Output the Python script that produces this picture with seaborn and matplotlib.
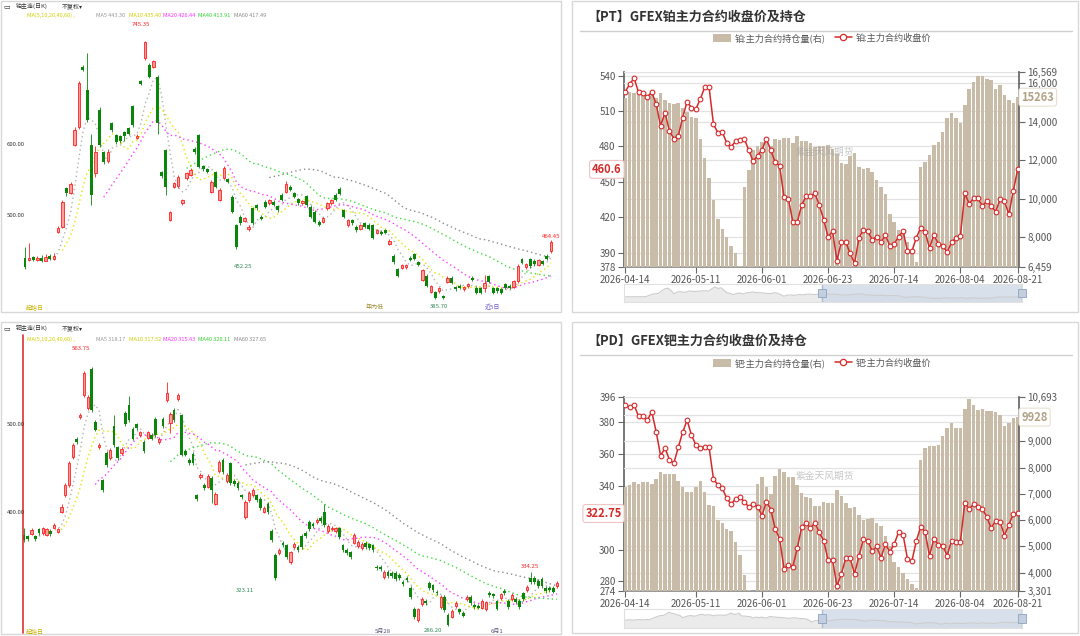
import numpy as np
import pandas as pd
import matplotlib
matplotlib.use("Agg")
import matplotlib.pyplot as plt
import matplotlib.transforms as mtransforms
from matplotlib.patches import Rectangle, Patch
from matplotlib.lines import Line2D
import seaborn as sns

# ---------------- data: right panels (90 trading days) ----------------
date_labels = ['2026-04-14', '2026-05-11', '2026-06-01', '2026-06-23',
               '2026-07-14', '2026-08-04', '2026-08-21']
date_tick_idx = [0, 16, 31, 46, 61, 76, 89]

pt_close = [526.3, 532.9, 537.7, 525.8, 524.9, 522.1, 525.8, 515.8, 497.3, 508.7,
            493.0, 486.7, 488.7, 504.4, 517.8, 512.9, 511.5, 520.1, 530.0, 530.0,
            498.7, 491.6, 492.1, 483.0, 479.6, 484.4, 485.3, 486.4, 476.8, 467.4,
            472.2, 477.3, 486.4, 476.8, 466.5, 463.6, 436.9, 435.2, 416.1, 416.1,
            430.3, 438.0, 438.0, 440.3, 430.3, 418.1, 403.2, 408.4, 383.3, 399.5,
            399.0, 389.6, 381.0, 402.7, 409.5, 408.4, 401.0, 403.8, 399.0, 404.7,
            396.1, 397.5, 403.8, 408.4, 391.3, 391.3, 402.7, 411.2, 407.5, 394.1,
            405.2, 397.5, 396.1, 390.4, 399.0, 402.7, 404.1, 440.3, 431.7, 436.0,
            436.0, 429.5, 434.0, 429.7, 424.6, 435.2, 433.7, 422.6, 442.3, 460.6]
pt_oi = [15200, 15550, 15465, 15431, 15413, 15361, 15465, 15240, 15465, 15119,
         14946, 14894, 14963, 14686, 14513, 14253, 14166, 13093, 12088, 11049,
         9923, 8970, 8451, 8018, 7533, 7186, 6494, 10616, 11482, 12521,
         12729, 12954, 13041, 12729, 13093, 13041, 13162, 13162, 12902, 13248,
         13006, 13006, 12902, 12660, 12729, 12729, 12763, 12556, 12313, 11863,
         11794, 12209, 12348, 11655, 11516, 11568, 11395, 10962, 10616, 10235,
         9230, 8797, 8364, 8330, 7758, 7412, 6719, 11655, 11915, 12261,
         12781, 12954, 13474, 14166, 14461, 14166, 13907, 14859, 15673, 16072,
         16366, 16366, 16210, 16158, 15673, 15898, 15379, 15119, 14946, 15263]

pd_close = [390.9, 389.4, 390.9, 383.8, 383.8, 381.5, 386.7, 374.1, 359.1, 363.9,
            356.6, 354.3, 364.3, 373.7, 381.5, 372.1, 365.8, 363.7, 364.7, 364.3,
            344.4, 340.7, 338.6, 332.3, 328.7, 331.9, 332.9, 330.2, 326.7, 328.7,
            327.1, 321.4, 330.2, 325.2, 313.1, 306.8, 287.9, 290.5, 289.4, 300.9,
            314.1, 316.8, 313.5, 317.0, 310.8, 305.7, 293.2, 293.8, 277.1, 284.8,
            294.6, 294.6, 284.8, 295.9, 306.8, 305.7, 299.0, 302.0, 294.9, 303.6,
            298.4, 303.6, 311.0, 309.5, 294.2, 292.8, 305.3, 314.5, 311.0, 296.3,
            306.8, 303.2, 302.6, 296.3, 305.7, 305.1, 304.7, 329.4, 325.6, 328.7,
            326.7, 325.6, 320.4, 313.5, 318.3, 317.7, 308.9, 315.6, 322.5, 322.75]
pd_oi = [7274, 7338, 7440, 7389, 7440, 7465, 7363, 7567, 7822, 7758,
         7758, 7758, 7504, 7274, 7058, 7058, 7274, 7504, 7058, 6573,
         6548, 6000, 5898, 5682, 5580, 5172, 4688, 3924, 3325, 3200,
         7363, 7656, 7274, 6981, 7695, 7949, 7822, 7656, 7656, 7338,
         7019, 6892, 6828, 6548, 6548, 6701, 6637, 6663, 7147, 6917,
         6637, 6446, 6510, 6191, 6000, 6038, 6064, 5873, 5771, 5401,
         5019, 4408, 4217, 3987, 3771, 3580, 3414, 8293, 8739, 8841,
         8841, 8867, 9223, 9529, 9720, 9529, 9529, 10243, 10612, 10370,
         10204, 10243, 10166, 10166, 10115, 10013, 9606, 9720, 9911, 9928]

pt_left_ticks = [378, 390, 420, 450, 480, 510, 540]
pt_left_max = 543
pt_right_ticks = [6459, 8000, 10000, 12000, 14000, 16000, 16569]
pd_left_ticks = [274, 280, 300, 320, 340, 360, 380, 396]
pd_left_max = 396
pd_right_ticks = [3301, 4000, 5000, 6000, 7000, 8000, 9000, 10000, 10693]
# tick labels hidden behind the last-value boxes in the reference
pt_hidden_left, pt_hidden_right = [], []
pd_hidden_left, pd_hidden_right = [320], [10000]

# ---------------- data: left candlestick panels (daily OHLC) ----------------
pt_hist_open = [441, 438, 442, 438, 441, 437, 443, 439, 478, 485,
                539, 533, 600, 625, 710, 677, 600, 560, 650, 590,
                578, 631, 614, 612, 618, 624, 655, 610, 690, 722,
                712, 710, 696, 562, 593, 494, 541, 542, 518, 553,
                558, 595, 614, 570, 566, 534, 562, 523, 554, 552,
                527, 487, 499, 493, 481, 511, 515, 499, 520, 518,
                520, 514, 530, 534, 541, 532, 524, 518, 528, 513,
                506, 492, 492, 511, 518, 530, 538, 508, 487, 494,
                485, 482, 490, 488, 487, 476, 478, 480, 461, 444,
                425, 427, 428, 441, 446, 435, 410, 416, 393, 393,
                394, 387, 407, 413, 400, 402, 397, 401, 413, 399,
                398, 398, 415, 398, 398, 397, 404, 402, 400, 408,
                439, 428, 439, 437, 431, 436, 444, 450]
pt_hist_close = [428, 441, 438, 441, 437, 442, 439, 444, 483, 520,
                 532, 545, 621, 687, 706, 635, 530, 590, 600, 576,
                 590, 621, 604, 605, 612, 616, 628, 613, 686, 745,
                 696, 718, 631, 556, 541, 506, 546, 555, 522, 560,
                 565, 590, 569, 566, 562, 548, 541, 537, 568, 548,
                 506, 456, 490, 497, 485, 490, 511, 496, 513, 522,
                 516, 508, 523, 545, 537, 527, 518, 521, 515, 499,
                 492, 488, 497, 518, 522, 523, 531, 499, 494, 490,
                 480, 487, 485, 482, 469, 480, 475, 476, 465, 435,
                 416, 431, 431, 438, 440, 431, 424, 402, 401, 385,
                 398, 385, 413, 406, 397, 399, 400, 404, 410, 392,
                 392, 406, 407, 392, 394, 392, 399, 399, 408, 430,
                 434, 432, 429, 432, 438, 433, 440, 464]
pt_hist_high = [456, 462, 444, 443, 445, 446, 446, 448, 486, 522,
                541, 548, 625, 690, 712, 730, 615, 598, 653, 592,
                595, 633, 616, 614, 620, 626, 657, 615, 692, 746,
                716, 720, 698, 564, 595, 507, 548, 558, 524, 562,
                567, 597, 616, 572, 568, 550, 564, 539, 570, 554,
                529, 489, 501, 499, 487, 513, 517, 501, 522, 524,
                522, 516, 532, 549, 543, 534, 526, 523, 530, 515,
                508, 494, 499, 520, 524, 532, 541, 510, 496, 496,
                487, 489, 492, 490, 489, 482, 480, 482, 467, 446,
                427, 433, 433, 443, 448, 437, 426, 418, 403, 395,
                400, 389, 415, 415, 402, 404, 402, 406, 415, 401,
                400, 417, 417, 400, 400, 399, 406, 404, 410, 432,
                441, 434, 441, 439, 440, 438, 446, 466]
pt_hist_low = [426, 437, 437, 436, 435, 436, 438, 438, 476, 483,
               528, 531, 598, 622, 704, 633, 515, 555, 597, 573,
               575, 618, 602, 603, 605, 614, 626, 608, 684, 720,
               694, 708, 615, 554, 529, 493, 539, 540, 516, 551,
               556, 588, 567, 564, 560, 532, 539, 521, 552, 546,
               504, 454, 488, 491, 479, 488, 509, 494, 511, 516,
               514, 506, 521, 532, 535, 525, 516, 516, 513, 497,
               490, 486, 490, 509, 516, 521, 529, 497, 485, 488,
               478, 480, 483, 480, 467, 474, 473, 474, 459, 433,
               414, 425, 426, 436, 438, 429, 408, 400, 391, 383,
               392, 383, 405, 404, 395, 397, 395, 399, 408, 390,
               390, 393, 405, 390, 392, 390, 397, 397, 398, 406,
               432, 426, 427, 430, 429, 431, 438, 448]

pd_hist_open = [376, 374, 377, 374, 382, 378, 376, 380, 384, 379,
                402, 420, 432, 463, 484, 508, 533, 518, 562, 503,
                474, 437, 468, 462, 498, 474, 468, 513, 522, 495,
                500, 488, 480, 485, 488, 506, 480, 506, 527, 502,
                516, 528, 510, 470, 460, 467, 420, 441, 432, 430,
                440, 411, 447, 460, 436, 456, 436, 434, 420, 396,
                415, 420, 420, 416, 402, 411, 380, 353, 355, 367,
                364, 345, 362, 362, 375, 378, 390, 388, 390, 395,
                401, 380, 382, 380, 383, 364, 359, 356, 367, 363,
                361, 367, 365, 364, 340, 340, 328, 334, 333, 333,
                331, 323, 327, 316, 293, 280, 298, 302, 322, 319,
                312, 295, 306, 286, 284, 296, 292, 288, 304, 306,
                297, 296, 294, 292, 311, 309, 301, 305, 313, 302,
                304, 304, 302, 310, 314, 327, 327, 324, 326, 316,
                316, 316, 318]
pd_hist_close = [370, 371, 381, 371, 378, 383, 382, 377, 387, 382,
                 407, 432, 457, 477, 480, 511, 558, 531, 516, 494,
                 477, 426, 454, 471, 477, 462, 472, 500, 505, 484,
                 496, 491, 470, 491, 484, 488, 484, 498, 535, 512,
                 505, 533, 466, 466, 456, 456, 416, 443, 428, 442,
                 426, 422, 458, 446, 443, 434, 433, 428, 418, 413,
                 423, 426, 415, 406, 406, 401, 370, 327, 359, 364,
                 351, 356, 366, 359, 362, 374, 382, 386, 393, 391,
                 387, 386, 384, 383, 373, 359, 355, 351, 376, 368,
                 366, 362, 361, 359, 338, 337, 334, 329, 329, 326,
                 327, 320, 325, 306, 283, 292, 304, 299, 316, 314,
                 310, 306, 291, 275, 290, 299, 289, 285, 306, 299,
                 295, 294, 302, 300, 308, 307, 293, 309, 310, 295,
                 308, 300, 295, 304, 317, 323, 323, 318, 318, 313,
                 314, 312, 322]
pd_hist_high = [383, 376, 384, 376, 384, 385, 384, 382, 389, 384,
                410, 434, 459, 479, 486, 513, 560, 533, 564, 505,
                479, 439, 470, 473, 510, 476, 474, 515, 532, 497,
                502, 493, 482, 493, 490, 508, 486, 508, 547, 514,
                518, 535, 512, 472, 462, 469, 422, 445, 434, 444,
                442, 424, 460, 462, 445, 458, 438, 436, 422, 415,
                425, 428, 422, 418, 408, 413, 382, 355, 361, 369,
                366, 358, 368, 364, 377, 380, 392, 390, 395, 397,
                410, 388, 386, 385, 385, 366, 361, 358, 378, 370,
                368, 369, 367, 366, 342, 342, 336, 336, 335, 335,
                333, 325, 329, 318, 295, 294, 306, 304, 324, 321,
                314, 308, 308, 288, 292, 301, 294, 290, 308, 308,
                299, 298, 304, 302, 313, 311, 303, 311, 315, 304,
                310, 306, 304, 312, 319, 334, 329, 326, 328, 318,
                318, 318, 324]
pd_hist_low = [368, 369, 376, 369, 376, 376, 375, 375, 383, 378,
               400, 418, 430, 461, 478, 506, 531, 516, 514, 492,
               472, 424, 452, 460, 475, 460, 466, 498, 503, 482,
               494, 486, 468, 483, 482, 486, 478, 496, 525, 490,
               503, 526, 464, 464, 454, 454, 414, 439, 426, 428,
               412, 409, 445, 444, 434, 432, 431, 426, 416, 394,
               413, 418, 413, 404, 400, 399, 368, 325, 353, 362,
               349, 343, 360, 357, 360, 372, 380, 384, 388, 389,
               385, 378, 380, 378, 371, 357, 353, 349, 365, 361,
               359, 360, 359, 357, 336, 335, 326, 327, 327, 324,
               325, 318, 323, 304, 281, 278, 296, 297, 314, 312,
               308, 293, 289, 273, 282, 294, 287, 283, 302, 297,
               293, 292, 292, 290, 306, 305, 291, 303, 308, 293,
               302, 298, 293, 302, 312, 321, 321, 316, 316, 311,
               312, 310, 316]

ma_windows = [5, 10, 20, 40, 60]
pt_ma_labels = ['MA5 443.30', 'MA10 435.40', 'MA20 426.44', 'MA40 413.91', 'MA60 417.49']
pd_ma_labels = ['MA5 318.17', 'MA10 317.52', 'MA20 315.43', 'MA40 320.11', 'MA60 327.65']

# ---------------- style ----------------
sns.set_theme(style="white")
plt.rcParams['font.family'] = ['Noto Sans CJK SC', 'DejaVu Sans']
plt.rcParams['axes.unicode_minus'] = False

W, H = 1080, 636
fig = plt.figure(figsize=(W / 100, H / 100), dpi=100)
fig.patch.set_facecolor('white')


def frect(l, t, r, b):
    return [l / W, 1 - b / H, (r - l) / W, (b - t) / H]


def fx(x):
    return x / W


def fy(y):
    return 1 - y / H


def ftext(x, y, s, **kw):
    kw.setdefault('va', 'center')
    kw.setdefault('ha', 'left')
    fig.text(fx(x), fy(y), s, **kw)


# panel borders
for (l, t, r, b) in [(0.5, 0.5, 561, 312), (0.5, 322, 561, 634),
                     (572, 1, 1078, 312), (572, 322, 1078, 633)]:
    fig.add_artist(Rectangle((fx(l), fy(b)), (r - l) / W, (b - t) / H,
                             transform=fig.transFigure, fill=False,
                             ec='#d8d8d8', lw=1))

RED_C = '#ff2020'
RED_F = '#ff9c9c'
GREEN_C = '#0a860a'
MA_COLORS = ['#b2b2b2', '#e4e400', '#ff3cff', '#3cdc3c', '#8a8a8a']
MA_TEXT_COLORS = ['#999999', '#d0d000', '#ff30ff', '#30d030', '#888888']


def candle_panel(l, t, r, b, o, h, lo, c, x_first, x_last, yref):
    ax = fig.add_axes(frect(l, t, r, b))
    o, h, lo, c = (np.asarray(v, float) for v in (o, h, lo, c))
    n = len(o)
    idx = np.arange(n)
    step = (x_last - x_first) / (n - 1)
    ax.set_xlim(-(x_first - l) / step, (n - 1) + (r - x_last) / step)
    (p1, y1), (p2, y2) = yref
    s = (y2 - y1) / (p1 - p2)
    ax.set_ylim(p2 - (b - y2) / s, p1 + (y1 - t) / s)
    closes = pd.Series(c)
    for w, col in zip(ma_windows, MA_COLORS):
        ma = closes.rolling(w, min_periods=w).mean()
        ok = ~ma.isna().values
        sns.lineplot(x=idx[ok], y=ma.values[ok], ax=ax, color=col, lw=1.0,
                     linestyle=(0, (1, 2.2)), zorder=2)
    up = c >= o
    dn = ~up
    ax.vlines(idx[up], lo[up], h[up], color=RED_C, lw=0.6, zorder=3)
    ax.vlines(idx[dn], lo[dn], h[dn], color=GREEN_C, lw=0.6, zorder=3)
    ax.bar(idx[up], c[up] - o[up], bottom=o[up], width=0.6, facecolor=RED_F,
           edgecolor=RED_C, lw=0.6, zorder=4)
    ax.bar(idx[dn], o[dn] - c[dn], bottom=c[dn], width=0.72, color=GREEN_C,
           lw=0, zorder=4)
    ax.set_xlabel('')
    ax.set_ylabel('')
    ax.axis('off')
    return ax


def ma_header(y, labels):
    ftext(27, y, 'MA(5,10,20,40,60) ,', fontsize=4.0, color='#d0d000')
    for x, lab, col in zip([96, 129, 163, 198, 234], labels, MA_TEXT_COLORS):
        ftext(x, y, lab, fontsize=4.0, color=col)


# ---- top-left: PT long history ----
candle_panel(1, 1, 559, 311, pt_hist_open, pt_hist_high, pt_hist_low, pt_hist_close,
             25, 551, ((600, 145), (500, 216)))
ftext(3, 6, '▭', fontsize=5, color='#333')
ftext(16, 6, '铂主连(日K)', fontsize=4.3, color='#333')
ftext(62, 6, '不复权▾', fontsize=4.3, color='#333')
ma_header(15.5, pt_ma_labels)
ftext(7, 145, '600.00', fontsize=4.3, color='#333')
ftext(7, 216, '500.00', fontsize=4.3, color='#333')
ftext(141, 25, '745.35', fontsize=4.3, color='#ff2020', ha='center')
ftext(243, 266, '452.25', fontsize=4.3, color='#2e8b57', ha='center')
ftext(551, 237, '464.45', fontsize=4.3, color='#ff2020', ha='center')
ftext(35, 307, '起始日', fontsize=4.3, color='#c8b400', ha='center')
ftext(375, 307, '年内低', fontsize=4.3, color='#9a8a30', ha='center')
ftext(439, 307, '385.70', fontsize=4.3, color='#2e8b57', ha='center')
ftext(492, 307, '近5日', fontsize=4.3, color='#6a5acd', ha='center')

# ---- bottom-left: PD long history ----
candle_panel(1, 323, 559, 633, pd_hist_open, pd_hist_high, pd_hist_low, pd_hist_close,
             24, 557, ((500, 424.3), (400, 513.3)))
fig.add_artist(Line2D([fx(23), fx(23)], [fy(335), fy(633)], color='#e03030', lw=1.2))
ftext(3, 328, '▭', fontsize=5, color='#333')
ftext(16, 328, '钯主连(日K)', fontsize=4.3, color='#333')
ftext(62, 328, '不复权▾', fontsize=4.3, color='#333')
ma_header(339, pd_ma_labels)
ftext(7, 424, '500.00', fontsize=4.3, color='#333')
ftext(7, 513, '400.00', fontsize=4.3, color='#333')
ftext(81, 349, '563.75', fontsize=4.3, color='#ff2020', ha='center')
ftext(245, 591, '323.11', fontsize=4.3, color='#2e8b57', ha='center')
ftext(530, 567, '334.25', fontsize=4.3, color='#ff2020', ha='center')
ftext(35, 631, '起始日', fontsize=4.3, color='#c8b400', ha='center')
ftext(383, 631, '5月28', fontsize=4.3, color='#555577', ha='center')
ftext(433, 631, '286.20', fontsize=4.3, color='#2e8b57', ha='center')
ftext(497, 631, '6月1', fontsize=4.3, color='#555577', ha='center')

# ---------------- right panels ----------------
TAN = '#c8bca9'
LRED = '#d42a2a'


def right_panel(pt, pb, title_y, title, bar_label, line_label, oi, close,
                lticks, lmax, rticks, hid_l, hid_r, last_txt, oi_txt, wm_y,
                s_top, s_bot, hist_close):
    ax = fig.add_axes(frect(624, pt, 1019, pb))
    ax2 = ax.twinx()
    ax3 = ax.twinx()
    n = len(oi)
    idx = np.arange(n)
    sns.barplot(x=idx, y=oi, native_scale=True, color=TAN, saturation=1,
                width=0.8, errorbar=None, ax=ax2, linewidth=0, zorder=2)
    sns.lineplot(x=idx, y=close, ax=ax3, color=LRED, lw=1.1, marker='o',
                 markersize=3.4, markerfacecolor='white', markeredgecolor=LRED,
                 markeredgewidth=0.8, zorder=5)
    for a in (ax, ax2, ax3):
        a.set_xlabel('')
        a.set_ylabel('')
        for sp in a.spines.values():
            sp.set_visible(False)
    ax.set_ylim(lticks[0], lmax)
    ax3.set_ylim(lticks[0], lmax)
    ax2.set_ylim(rticks[0], rticks[-1])
    ax.set_yticks(lticks)
    ax.set_yticklabels(['' if v in hid_l else str(v) for v in lticks])
    ax2.set_yticks(rticks)
    ax2.set_yticklabels(['' if v in hid_r else f'{v:,}' for v in rticks])
    ax3.set_yticks([])
    ax.set_xlim(-0.3, n - 1 + 0.3)
    ax.set_xticks(date_tick_idx)
    ax.set_xticklabels(date_labels)
    ax.spines['left'].set_visible(True)
    ax.spines['left'].set_color('#666666')
    ax.spines['bottom'].set_visible(True)
    ax.spines['bottom'].set_color('#8a8a8a')
    ax2.spines['right'].set_visible(True)
    ax2.spines['right'].set_color('#666666')
    ax.tick_params(axis='y', left=True, length=4, width=0.8, color='#666666',
                   labelsize=7, labelcolor='#555555', pad=2)
    ax.tick_params(axis='x', bottom=True, length=4, width=0.8, color='#666666',
                   labelsize=7, labelcolor='#555555', pad=1.5)
    ax2.tick_params(axis='y', right=True, length=4, width=0.8, color='#666666',
                    labelsize=7, labelcolor='#555555', pad=2)
    ax3.tick_params(axis='y', right=False, labelright=False, left=False)
    ax.yaxis.grid(True, color='#e2e2e2', lw=0.9)
    ax.xaxis.grid(False)
    ax2.yaxis.grid(True, color='#e2e2e2', lw=0.9)
    ax2.xaxis.grid(False)
    ax2.set_axisbelow(True)
    ax3.grid(False)

    trl = mtransforms.blended_transform_factory(ax3.transAxes, ax3.transData)
    ax3.text(-0.006, close[-1], last_txt, transform=trl, ha='right', va='center',
             color=LRED, fontsize=8, fontweight='bold', zorder=10,
             bbox=dict(boxstyle='round,pad=0.22', fc='white', ec='#f0c4c4', lw=0.8))
    y_oi = ax3.transData.inverted().transform(ax2.transData.transform((0, oi[-1])))[1]
    ax3.text(1.006, y_oi, oi_txt, transform=trl, ha='left', va='center',
             color='#b3a186', fontsize=8, fontweight='bold', zorder=10,
             bbox=dict(boxstyle='round,pad=0.22', fc='white', ec='#e8e0d2', lw=0.8))

    handles = [Patch(facecolor=TAN, edgecolor='none'),
               Line2D([], [], color=LRED, lw=1.1, marker='o', ms=4.5,
                      mfc='white', mec=LRED, mew=0.9)]
    ax3.legend(handles, [bar_label, line_label], loc='center',
               bbox_to_anchor=(0.502, 1.0 + 34 / (pb - pt)), ncol=2, frameon=False,
               fontsize=6.6, handlelength=1.9, handleheight=0.9, columnspacing=1.0,
               handletextpad=0.4, labelcolor='#555555')

    ftext(587, title_y, title, fontsize=9.4, fontweight='bold', color='#333333')
    fig.add_artist(Line2D([fx(580), fx(1072)], [fy(title_y + 14), fy(title_y + 14)],
                          color='#cfcfcf', lw=1))
    ftext(825, wm_y, '紫金天风期货', fontsize=7, color='#9a9a9a', alpha=0.55,
          ha='center', zorder=20)

    # data-zoom slider
    axd = fig.add_axes(frect(624, s_top, 1022, s_bot))
    hc = np.asarray(hist_close, float)
    m = len(hc)
    xi = np.arange(m)
    rng = hc.max() - hc.min()
    lo_lim = hc.min() - 0.3 * rng
    axd.fill_between(xi, hc, lo_lim, color='#ebebeb', lw=0)
    sns.lineplot(x=xi, y=hc, ax=axd, color='#cdcdcd', lw=0.8)
    axd.set_xlim(0, m - 1)
    axd.set_ylim(lo_lim, hc.max() + 0.25 * rng)
    axd.set_xticks([])
    axd.set_yticks([])
    axd.set_xlabel('')
    axd.set_ylabel('')
    for sp in axd.spines.values():
        sp.set_color('#e0e0e0')
        sp.set_linewidth(0.8)
    start = 0.4975 * (m - 1)
    axd.axvspan(start, m - 1, color='#cfd9e7', alpha=0.8, lw=0)
    axd.axvline(start, color='#aebbd0', lw=1)
    axd.axvline(m - 1, color='#aebbd0', lw=1)
    for xf in (0.4975, 1.0):
        axd.add_patch(Rectangle((xf - 0.009, 0.28), 0.018, 0.44,
                                transform=axd.transAxes, fc='#c3cede',
                                ec='#8fa2bf', lw=0.6, clip_on=False, zorder=5))
    return ax


right_panel(72, 267, 17, '【PT】GFEX铂主力合约收盘价及持仓',
            '铂:主力合约持仓量(右)', '铂:主力合约收盘价',
            pt_oi, pt_close, pt_left_ticks, pt_left_max, pt_right_ticks,
            pt_hidden_left, pt_hidden_right,
            '460.6', '15263', 152, 284, 302, pt_hist_close)
right_panel(397, 591, 341, '【PD】GFEX钯主力合约收盘价及持仓',
            '钯:主力合约持仓量(右)', '钯:主力合约收盘价',
            pd_oi, pd_close, pd_left_ticks, pd_left_max, pd_right_ticks,
            pd_hidden_left, pd_hidden_right,
            '322.75', '9928', 476, 609, 628, pd_hist_close)

fig.savefig('out.png', dpi=100)
